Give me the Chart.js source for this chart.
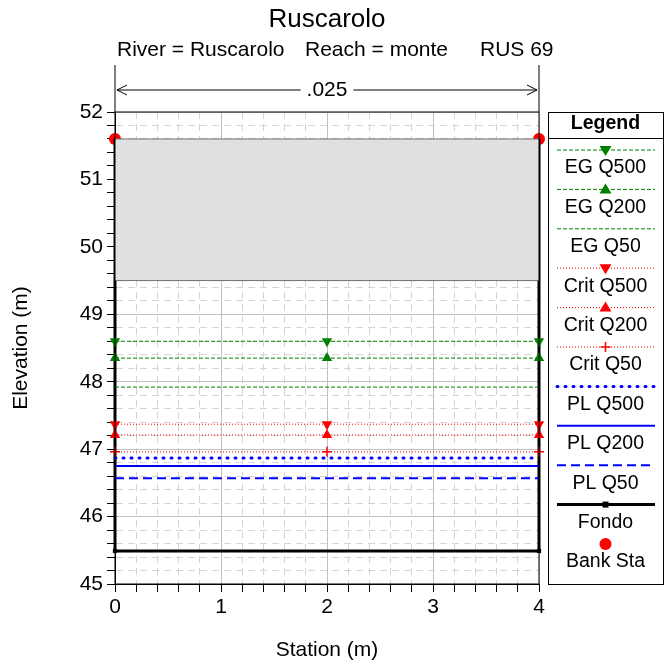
<!DOCTYPE html>
<html>
<head>
<meta charset="utf-8">
<script src="https://cdn.jsdelivr.net/npm/chart.js@4.4.1/dist/chart.umd.min.js"></script>
<style>
  html, body { margin: 0; padding: 0; background: #fff; }
  #wrap { width: 664px; height: 666px; }
</style>
</head>
<body>
<div id="wrap"><canvas id="chart" width="664" height="666"></canvas></div>
<script>
// dati della sezione RUS 69
const stations = [0, 2, 4];
const egQ500 = [48.6, 48.6, 48.6];
const egQ200 = [48.35, 48.35, 48.35];
const egQ50 = [47.92, 47.92, 47.92];
const critQ500 = [47.37, 47.37, 47.37];
const critQ200 = [47.21, 47.21, 47.21];
const critQ50 = [46.96, 46.96, 46.96];
const plQ500 = [46.87, 46.87, 46.87];
const plQ200 = [46.75, 46.75, 46.75];
const plQ50 = [46.57, 46.57, 46.57];
const fondoSta = [0, 0, 4, 4];
const fondoElev = [51.6, 45.49, 45.49, 51.6];
const bankSta = [0, 4];
const bankElev = [51.6, 51.6];
const lidSta = [0, 4];
const lidLow = [49.5, 49.5];
const lidHigh = [51.6, 51.6];
const manningN = '.025';

const FONT = "Arial, 'Liberation Sans', sans-serif";
const GREEN = '#008000', RED = '#ff0000', BLUE = '#0000ff';

function pts(xs, ys) { return xs.map((x, i) => ({ x: x, y: ys[i] })); }

function line(label, ys, color, width, dash, marker, extra) {
  return Object.assign({
    label: label,
    data: pts(stations, ys),
    borderColor: color,
    backgroundColor: color,
    borderWidth: width,
    borderDash: dash,
    pointStyle: marker ? marker.style : false,
    pointRotation: marker ? (marker.rot || 0) : 0,
    pointRadius: marker ? marker.r : 0,
    pointBorderWidth: marker && marker.style === 'cross' ? 1.5 : 0,
    pointBorderColor: color,
    fill: false,
    clip: false
  }, extra || {});
}

const datasets = [
  { label: 'lidLow', data: pts(lidSta, lidLow), borderColor: '#707070', borderWidth: 1, pointRadius: 0, fill: false },
  { label: 'lidHigh', data: pts(lidSta, lidHigh), borderColor: '#707070', borderWidth: 1, pointRadius: 0,
    fill: '-1', backgroundColor: '#e0e0e0' },
  line('EG Q500', egQ500, GREEN, 1, [4, 2], { style: 'triangle', rot: 180, r: 6 }),
  line('EG Q200', egQ200, GREEN, 1, [4, 2], { style: 'triangle', r: 6 }),
  line('EG Q50', egQ50, GREEN, 1, [4, 2], null),
  line('Crit Q500', critQ500, RED, 1, [1, 2], { style: 'triangle', rot: 180, r: 6 }),
  line('Crit Q200', critQ200, RED, 1, [1, 2], { style: 'triangle', r: 6 }),
  line('Crit Q50', critQ50, RED, 1, [1, 2], { style: 'cross', r: 5 }),
  line('PL Q500', plQ500, BLUE, 3, [1, 7], null, { borderCapStyle: 'round' }),
  line('PL Q200', plQ200, BLUE, 2, [], null),
  line('PL Q50', plQ50, BLUE, 2, [9, 5], null),
  { label: 'Fondo', data: pts(fondoSta, fondoElev), borderColor: '#000', backgroundColor: '#000', borderWidth: 3,
    pointStyle: 'rect', pointRadius: [0, 3, 3, 0], pointBorderWidth: 0, fill: false, clip: false },
  { label: 'Bank Sta', data: pts(bankSta, bankElev), showLine: false, backgroundColor: RED, borderColor: RED,
    pointStyle: 'circle', pointRadius: 6, pointBorderWidth: 0, clip: false }
];

const legendNames = ['EG Q500', 'EG Q200', 'EG Q50', 'Crit Q500', 'Crit Q200', 'Crit Q50',
  'PL Q500', 'PL Q200', 'PL Q50', 'Fondo', 'Bank Sta'];

function isMajor(v) { return Math.abs(v - Math.round(v)) < 1e-6; }

function gridOpts() {
  return {
    color: ctx => ctx.tick && isMajor(ctx.tick.value) ? '#c0c0c0' : '#d4d4d4',
    tickColor: '#000',
    tickLength: 8,
    tickBorderDash: [],
    lineWidth: 1
  };
}
function borderOpts() {
  return { display: true, color: '#000', width: 1, dash: ctx => ctx.tick && isMajor(ctx.tick.value) ? [] : [7, 5] };
}

function drawMarker(ctx, style, x, y, color) {
  ctx.save();
  ctx.fillStyle = color; ctx.strokeStyle = color; ctx.setLineDash([]);
  if (style === 'down' || style === 'up') {
    const s = style === 'up' ? 1 : -1;
    ctx.beginPath();
    ctx.moveTo(x - 6, y + 4 * s);
    ctx.lineTo(x + 6, y + 4 * s);
    ctx.lineTo(x, y - 6 * s);
    ctx.closePath(); ctx.fill();
  } else if (style === 'plus') {
    ctx.lineWidth = 1.5;
    ctx.beginPath(); ctx.moveTo(x - 5, y); ctx.lineTo(x + 5, y); ctx.moveTo(x, y - 5); ctx.lineTo(x, y + 5); ctx.stroke();
  } else if (style === 'rect') {
    ctx.fillRect(x - 3, y - 3, 6, 6);
  } else if (style === 'circle') {
    ctx.beginPath(); ctx.arc(x, y, 6, 0, Math.PI * 2); ctx.fill();
  }
  ctx.restore();
}

const decorPlugin = {
  id: 'decor',
  afterDraw(chart) {
    const ctx = chart.ctx, a = chart.chartArea;
    const cx = (a.left + a.right) / 2;
    ctx.save();
    // cornice
    ctx.strokeStyle = '#000'; ctx.lineWidth = 1; ctx.setLineDash([]);
    ctx.strokeRect(a.left, a.top, a.right - a.left, a.bottom - a.top);

    // titoli
    ctx.fillStyle = '#000'; ctx.textBaseline = 'middle';
    ctx.font = '26px ' + FONT; ctx.textAlign = 'center';
    ctx.fillText('Ruscarolo', cx, 20);
    ctx.font = '21px ' + FONT; ctx.textAlign = 'left';
    ctx.fillText('River = Ruscarolo', a.left + 2, 50);
    ctx.fillText('Reach = monte', a.left + 190, 50);
    ctx.fillText('RUS 69', a.left + 365, 50);

    // tratto di scabrezza
    const yN = 90;
    ctx.beginPath();
    ctx.moveTo(a.left, 65); ctx.lineTo(a.left, a.top);
    ctx.moveTo(a.right, 65); ctx.lineTo(a.right, a.top);
    ctx.stroke();
    ctx.font = '21px ' + FONT; ctx.textAlign = 'center';
    const tw = ctx.measureText(manningN).width;
    ctx.fillText(manningN, cx, yN);
    ctx.beginPath();
    ctx.moveTo(a.left + 2, yN); ctx.lineTo(cx - tw / 2 - 6, yN);
    ctx.moveTo(cx + tw / 2 + 6, yN); ctx.lineTo(a.right - 2, yN);
    ctx.moveTo(a.left + 12, yN - 5); ctx.lineTo(a.left + 2, yN); ctx.lineTo(a.left + 12, yN + 5);
    ctx.moveTo(a.right - 12, yN - 5); ctx.lineTo(a.right - 2, yN); ctx.lineTo(a.right - 12, yN + 5);
    ctx.stroke();

    // legenda
    const bx = a.right + 9, by = a.top, bw = chart.width - bx - 1, bh = a.bottom - a.top;
    const mx = bx + bw / 2;
    ctx.strokeRect(bx + 0.5, by + 0.5, bw, bh);
    ctx.font = 'bold 19.5px ' + FONT; ctx.textAlign = 'center';
    ctx.fillText('Legend', mx, by + 12);
    ctx.beginPath(); ctx.moveTo(bx, by + 26.5); ctx.lineTo(bx + bw, by + 26.5); ctx.stroke();
    const markers = { 'EG Q500': 'down', 'EG Q200': 'up', 'Crit Q500': 'down', 'Crit Q200': 'up',
      'Crit Q50': 'plus', 'Fondo': 'rect', 'Bank Sta': 'circle' };
    legendNames.forEach((name, i) => {
      const ds = chart.data.datasets.find(d => d.label === name);
      const ly = by + 38 + i * 39.4;
      if (name !== 'Bank Sta') {
        ctx.save();
        ctx.strokeStyle = ds.borderColor; ctx.lineWidth = ds.borderWidth;
        ctx.setLineDash(ds.borderDash || []);
        ctx.lineCap = ds.borderCapStyle || 'butt';
        ctx.beginPath(); ctx.moveTo(bx + 9, ly); ctx.lineTo(bx + bw - 8, ly); ctx.stroke();
        ctx.restore();
      }
      if (markers[name]) drawMarker(ctx, markers[name], mx, ly, ds.backgroundColor);
      ctx.fillStyle = '#000'; ctx.font = '19.5px ' + FONT;
      ctx.fillText(name, mx, ly + 18);
    });
    ctx.restore();
  }
};

new Chart(document.getElementById('chart'), {
  type: 'scatter',
  data: { datasets: datasets },
  options: {
    responsive: false,
    animation: false,
    showLine: true,
    layout: { padding: { top: 112, right: 125, left: 0, bottom: 0 } },
    plugins: { legend: { display: false }, tooltip: { enabled: false } },
    scales: {
      x: {
        type: 'linear', min: 0, max: 4,
        ticks: { stepSize: 0.2, padding: 3, color: '#000', font: { family: FONT, size: 21 },
          autoSkip: false, maxRotation: 0,
          callback: v => isMajor(v) ? String(Math.round(v)) : '' },
        grid: gridOpts(), border: borderOpts(),
        title: { display: true, text: 'Station (m)', color: '#000', font: { family: FONT, size: 21 },
          padding: { top: 0, bottom: 3 } },
        afterFit: s => { s.height = 82; }
      },
      y: {
        type: 'linear', min: 45, max: 52,
        ticks: { stepSize: 0.2, padding: 4, color: '#000', font: { family: FONT, size: 21 },
          autoSkip: false,
          callback: v => isMajor(v) ? String(Math.round(v)) : '' },
        grid: gridOpts(), border: borderOpts(),
        title: { display: true, text: 'Elevation (m)', color: '#000', font: { family: FONT, size: 21 },
          padding: { top: 9, bottom: 0 } },
        afterFit: s => { s.width = 115; }
      }
    }
  },
  plugins: [decorPlugin]
});
</script>
</body>
</html>
